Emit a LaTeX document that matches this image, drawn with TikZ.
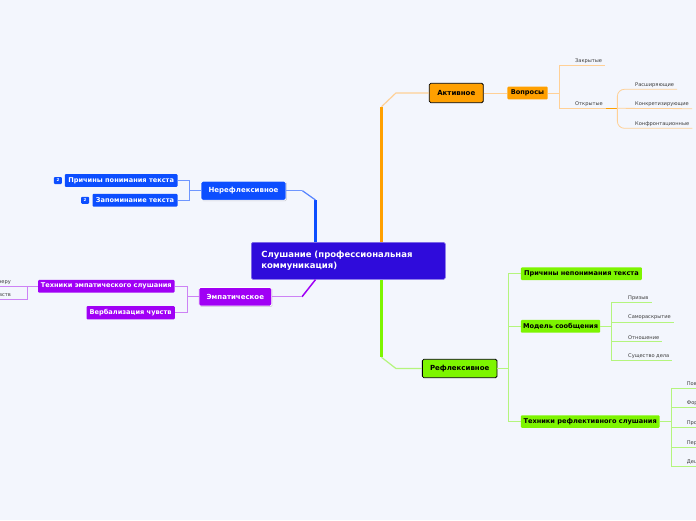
\documentclass[tikz,border=0pt]{standalone}
\usepackage{fontspec}
\setmainfont{DejaVu Sans}
\usetikzlibrary{positioning,shadows}

\definecolor{bgcol}{RGB}{243,246,253}
\definecolor{centcol}{RGB}{47,11,219}
\definecolor{bluecol}{RGB}{12,78,255}
\definecolor{bluelt}{RGB}{110,150,255}
\definecolor{purcol}{RGB}{160,0,245}
\definecolor{purlt}{RGB}{205,130,245}
\definecolor{orcol}{RGB}{255,160,0}
\definecolor{orlt}{RGB}{255,208,150}
\definecolor{grcol}{RGB}{125,245,0}
\definecolor{grlt}{RGB}{180,245,125}
\definecolor{leaftext}{RGB}{60,60,60}

\tikzset{
  box/.style={rounded corners=1.5pt, inner sep=0pt, font=\bfseries\fontsize{6.6}{7}\selectfont},
  centbox/.style={box, fill=centcol, text=white, draw=centcol!60!white, line width=0.6pt,
    align=left, text width=174pt, inner xsep=10pt, font=\bfseries\fontsize{8.5}{11.5}\selectfont},
  lightone/.style={box, draw=white, line width=0.8pt, text=white,
    font=\bfseries\fontsize{7}{7}\selectfont,
    drop shadow={shadow xshift=0.8pt, shadow yshift=-0.8pt, opacity=0.35}},
  darkone/.style={box, draw=black, line width=0.8pt, text=black,
    font=\bfseries\fontsize{7}{7}\selectfont},
  subbox/.style={box, rounded corners=1pt},
  leaf/.style={anchor=south west, inner xsep=3pt, inner ysep=2pt, text=leaftext,
    font=\fontsize{5.1}{5}\selectfont},
  leftleaf/.style={leaf, anchor=south east},
  badge/.style={fill=bluecol, text=white, rounded corners=1pt, inner sep=0pt,
    minimum width=8pt, minimum height=7pt, font=\bfseries\fontsize{4}{4}\selectfont}
}

\begin{document}
\begin{tikzpicture}[x=1pt,y=-1pt]
\fill[bgcol] (0,0) rectangle (696,520);
\useasboundingbox (0,0) rectangle (696,520);
\clip (0,0) rectangle (696,520);

\node[centbox, anchor=north west, minimum height=37pt] (cen) at (251,242)
  {Слушание (профессиональная\\коммуникация)};

% Нерефлексивное
\node[lightone, fill=bluecol, minimum width=85pt, minimum height=19pt] (ner) at (243.5,190.7) {Нерефлексивное};
\node[subbox, fill=bluecol, text=white, anchor=east, minimum width=112.7pt, minimum height=12.7pt] (pon) at (177.7,180.5) {Причины понимания текста};
\node[subbox, fill=bluecol, text=white, anchor=east, minimum width=85pt, minimum height=12.7pt] (zap) at (177.7,200.3) {Запоминание текста};
\node[badge, left=2.5pt of pon] (bpon) {2};
\node[badge, left=3pt of zap] (bzap) {2};
\draw[bluecol, line width=2.5pt] ([xshift=64.5pt]cen.north west) -- ++(0,-42) coordinate (nerbend);
\draw[bluecol!70!white, line width=1.2pt] (nerbend) -- ([xshift=16pt]ner.east);
\draw[bluelt, line width=0.8pt] ([xshift=16pt]ner.east) -- (ner.east);
\draw[bluelt, line width=0.8pt] (ner.west) -- ++(-11,0) coordinate (nj);
\draw[bluelt, line width=0.8pt] (nj) |- (pon.east);
\draw[bluelt, line width=0.8pt] (nj) |- (zap.east);

% Эмпатическое
\node[lightone, fill=purcol, minimum width=72.7pt, minimum height=18.7pt] (emp) at (235.3,296.7) {Эмпатическое};
\node[subbox, fill=purcol, text=white, anchor=east, minimum width=136.4pt, minimum height=12.7pt] (tem) at (174.7,286.3) {Техники эмпатического слушания};
\node[subbox, fill=purcol, text=white, anchor=east, minimum width=88.3pt, minimum height=13.3pt] (verb) at (175,312.7) {Вербализация чувств};
\draw[purcol, line width=1.5pt] ([xshift=64.5pt]cen.south west) -- ([xshift=30pt]emp.east);
\draw[purlt, line width=0.8pt] ([xshift=30pt]emp.east) -- (emp.east);
\draw[purlt, line width=0.8pt] (emp.west) -- ++(-11,0) coordinate (ej);
\draw[purlt, line width=0.8pt] (ej) |- (tem.east);
\draw[purlt, line width=0.8pt] (ej) |- (verb.east);
\node[leftleaf] (ptr) at (14,286.3) {Присоединение к партнеру};
\node[leftleaf] (otr) at (14,299.3) {Отражение чувств};
\draw[purlt, line width=0.8pt] (tem.west) -- ++(-10.5,0) coordinate (tj);
\draw[purlt, line width=0.8pt] (tj) -- (ptr.south west);
\draw[purlt, line width=0.8pt] (tj) |- (otr.south west);

% Активное
\node[darkone, fill=orcol, minimum width=54pt, minimum height=19.4pt] (akt) at (456.3,93) {Активное};
\node[subbox, fill=orcol, text=black, minimum width=40.4pt, minimum height=12.6pt] (vop) at (527.5,93) {Вопросы};
\draw[orcol, line width=2.5pt] ([xshift=130.5pt]cen.north west) -- ++(0,-135.3) coordinate (aktbend);
\draw[orlt, line width=1.2pt] (aktbend) -- ([xshift=-33pt]akt.west) -- (akt.west);
\draw[orlt, line width=0.8pt] (akt.east) -- (vop.west);
\draw[orlt, line width=0.8pt] (vop.east) -- ++(11,0) coordinate (vj);
\node[leaf] (zak) at (572,65.7) {Закрытые};
\node[leaf] (otk) at (572,108.3) {Открытые};
\draw[orlt, line width=0.8pt] (vj) |- (zak.south east);
\draw[orlt, line width=0.8pt] (vj) |- (otk.south east);
\draw[orcol, line width=0.8pt] (otk.south east) -- ++(11.5,0) coordinate (oj);
\node[leaf] (ras) at (632,89.3) {Расширяющие};
\node[leaf] (konk) at (632,108.7) {Конкретизирующие};
\node[leaf] (konf) at (632,128.3) {Конфронтационные};
\draw[orlt, line width=0.8pt, rounded corners=7pt] (oj) |- (ras.south east);
\draw[orlt, line width=0.8pt] (oj) -- (konk.south east);
\draw[orlt, line width=0.8pt, rounded corners=7pt] (oj) |- (konf.south east);

% Рефлексивное
\node[darkone, fill=grcol, minimum width=74.7pt, minimum height=18.4pt] (ref) at (459.7,368.5) {Рефлексивное};
\node[subbox, fill=grcol, text=black, anchor=west, minimum width=121pt, minimum height=12.7pt] (pnt) at (520.7,273.7) {Причины непонимания текста};
\node[subbox, fill=grcol, text=black, anchor=west, minimum width=79.3pt, minimum height=12.7pt] (mod) at (520.7,326.3) {Модель сообщения};
\node[subbox, fill=grcol, text=black, anchor=west, minimum width=138.6pt, minimum height=12.5pt] (trs) at (520.7,421.5) {Техники рефлективного слушания};
\draw[grcol, line width=2.5pt] ([xshift=130.5pt]cen.south west) -- ++(0,77.7) coordinate (refbend);
\draw[grlt, line width=1.2pt] (refbend) -- ([xshift=-26pt]ref.west) -- (ref.west);
\draw[grlt, line width=0.8pt] (ref.east) -- ++(11.3,0) coordinate (rj);
\draw[grlt, line width=0.8pt] (rj) |- (pnt.west);
\draw[grlt, line width=0.8pt] (rj) |- (mod.west);
\draw[grlt, line width=0.8pt] (rj) |- (trs.west);
\node[leaf] (priz) at (625,302.7) {Призыв};
\node[leaf] (samo) at (625,322) {Самораскрытие};
\node[leaf] (otn) at (625,341.7) {Отношение};
\node[leaf] (sush) at (625,360.7) {Существо дела};
\draw[grlt, line width=0.8pt] (mod.east) -- ++(11,0) coordinate (mj);
\foreach \lf in {priz,samo,otn,sush}
  \draw[grlt, line width=0.8pt] (mj) |- (\lf.south east);
\node[leaf] (pov) at (683.7,388.3) {Повторение};
\node[leaf] (form) at (683.7,407.7) {Формулирование};
\node[leaf] (pro) at (683.7,427.3) {Прояснение};
\node[leaf] (per) at (683.7,447.3) {Перефразирование};
\node[leaf] (desh) at (683.7,466.7) {Дешифровка};
\draw[grlt, line width=0.8pt] (trs.east) -- ++(11.4,0) coordinate (tj2);
\foreach \lf in {pov,form,pro,per,desh}
  \draw[grlt, line width=0.8pt] (tj2) |- (\lf.south east);
\end{tikzpicture}
\end{document}
